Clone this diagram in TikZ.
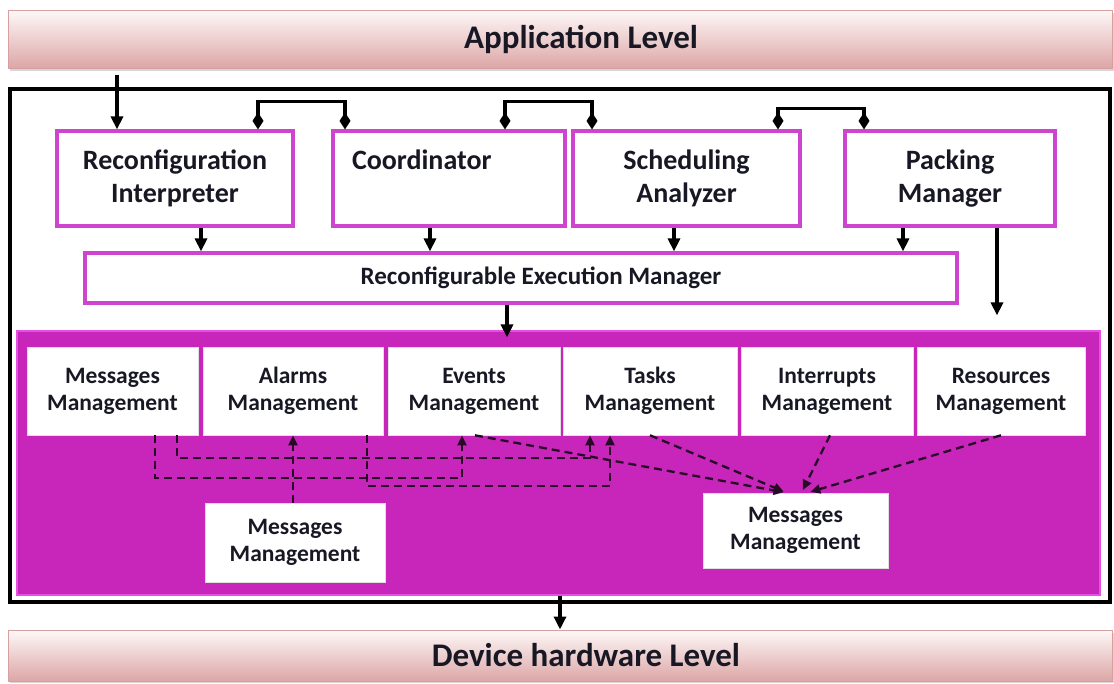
\documentclass[tikz,border=0pt]{standalone}
\usepackage{fontspec}
\setmainfont{Carlito}
\usetikzlibrary{arrows.meta,calc}
\definecolor{magfill}{RGB}{200,38,186}
\definecolor{magedge}{RGB}{228,80,228}
\definecolor{magline}{RGB}{206,68,206}
\definecolor{bartop}{RGB}{254,248,248}
\definecolor{barbot}{RGB}{220,166,166}
\definecolor{baredge}{RGB}{214,160,160}
\definecolor{txt}{RGB}{24,24,36}
\definecolor{dashc}{RGB}{40,10,40}
\begin{document}
\begin{tikzpicture}[x=1pt,y=-1pt,
  levelbar/.style={draw=baredge, line width=1, top color=bartop, bottom color=barbot, minimum width=1104, inner sep=0, text=txt, font=\bfseries\fontsize{33}{36}\selectfont},
  topbox/.style={draw=magline, line width=3.2, fill=white, minimum height=95, inner sep=0, align=center, text=txt, font=\bfseries\fontsize{28}{33}\selectfont},
  inbox/.style={draw=black!12, line width=0.6, fill=white, inner sep=0, align=center, text=txt, font=\bfseries\fontsize{23.5}{27}\selectfont},
  arr/.style={line width=3.4, -{Triangle[length=13pt,width=12pt]}},
  dia/.style={line width=3.4, {Diamond[length=17pt,width=11pt]}-{Diamond[length=17pt,width=11pt]}},
  dashline/.style={draw=dashc, line width=2.3, dash pattern=on 8pt off 5pt, -{Triangle[length=10pt,width=9pt]}}
]
\useasboundingbox (0,0) rectangle (1114,683);
% soft shadows of the level bars
\fill[black!16] (10,13) rectangle (1114,70.5);
\fill[black!16] (10,633) rectangle (1114,683);
\node[levelbar, minimum height=58] (app) at (560,39) {\hspace*{42pt}Application Level};
\node[levelbar, minimum height=51] (dev) at (560,655.5) {\hspace*{52pt}Device hardware Level};
\node[draw=black, line width=3.2, minimum width=1100, minimum height=513, inner sep=0] (outer) at (560,345.5) {};

\node[topbox, minimum width=236] (ri) at (175,178.5) {Reconfiguration\\Interpreter};
\node[topbox, text width=194, inner xsep=19, align=left] (co) at (449,178.5) {Coordinator\\\vphantom{Interpreter}};
\node[topbox, minimum width=227] (sa) at (686.5,178.5) {Scheduling\\Analyzer};
\node[topbox, minimum width=210] (pm) at (950,178.5) {Packing\\Manager};
\node[topbox, minimum width=872, minimum height=50, font=\bfseries\fontsize{25}{30}\selectfont] (rem) at (521,278) {\hspace*{40pt}Reconfigurable Execution Manager};

\node[fill=magfill, draw=magedge, line width=1.2, minimum width=1083, minimum height=264, inner sep=0] (osreg) at (558.5,463) {};

\node[inbox, minimum width=171, minimum height=88] (mm1) at (112.5,391) {Messages\\Management};
\node[inbox, minimum width=180, minimum height=88] (am) at (293,391) {Alarms\\Management};
\node[inbox, minimum width=172, minimum height=88] (em) at (474,391) {Events\\Management};
\node[inbox, minimum width=174, minimum height=88] (tm) at (650,391) {Tasks\\Management};
\node[inbox, minimum width=172, minimum height=88] (im) at (827,391) {Interrupts\\Management};
\node[inbox, minimum width=168, minimum height=88] (rm) at (1001,391) {Resources\\Management};
\node[inbox, minimum width=180, minimum height=79] (ml) at (295,542.5) {Messages\\Management};
\node[inbox, minimum width=185, minimum height=75] (mr) at (795.5,530.5) {Messages\\Management};

% solid arrows
\coordinate (a0) at ([xshift=-58pt]ri.north);
\draw[arr] ($(app.south -| a0)+(0,6)$) -- (a0);
\coordinate (a1) at ([xshift=26pt]ri.south);
\draw[arr] (a1) -- (a1 |- rem.north);
\coordinate (a2) at ([xshift=-19pt]co.south);
\draw[arr] (a2) -- (a2 |- rem.north);
\coordinate (a3) at ([xshift=-12.5pt]sa.south);
\draw[arr] (a3) -- (a3 |- rem.north);
\coordinate (a4) at ([xshift=-47pt]pm.south);
\draw[arr] (a4) -- (a4 |- rem.north);
\coordinate (a5) at ([xshift=47pt]pm.south);
\draw[arr] (a5) -- ($(a5 |- osreg.north)+(0,-15)$);
\coordinate (a6) at ([xshift=-14pt]rem.south);
\draw[arr] (a6) -- ($(a6 |- osreg.north)+(0,7)$);
\coordinate (a7) at ([xshift=1.5pt]osreg.south);
\draw[arr] (a7) -- (a7 |- dev.north);

% diamond links
\coordinate (d1a) at ([xshift=83pt]ri.north);
\coordinate (d1b) at ([xshift=-104pt]co.north);
\draw[dia] (d1a) -- ++(0,-28) -| (d1b);
\coordinate (d2a) at ([xshift=56pt]co.north);
\coordinate (d2b) at ([xshift=-94.5pt]sa.north);
\draw[dia] (d2a) -- ++(0,-28) -| (d2b);
\coordinate (d3a) at ([xshift=91.5pt]sa.north);
\coordinate (d3b) at ([xshift=-86pt]pm.north);
\draw[dia] (d3a) -- ++(0,-21) -| (d3b);

% dashed links
\draw[dashline] ([xshift=42.5pt]mm1.south) -- ++(0,43) -| ([xshift=-12pt]em.south);
\draw[dashline] ([xshift=64.5pt]mm1.south) -- ++(0,23) -| ([xshift=-60pt]tm.south);
\draw[dashline] ([xshift=74pt]am.south) -- ++(0,51) -| ([xshift=-40pt]tm.south);
\draw[dashline] (ml.north -| am.south) -- (am.south);
\draw[dashline, shorten >=3pt] ([xshift=1pt]em.south) -- ([xshift=-9pt]mr.north);
\draw[dashline, shorten >=3pt] (tm.south) -- ([xshift=-9pt]mr.north);
\draw[dashline, shorten >=3pt] ([xshift=3pt]im.south) -- ([xshift=6pt]mr.north);
\draw[dashline, shorten >=3pt] (rm.south) -- ([xshift=12pt]mr.north);
\end{tikzpicture}
\end{document}
